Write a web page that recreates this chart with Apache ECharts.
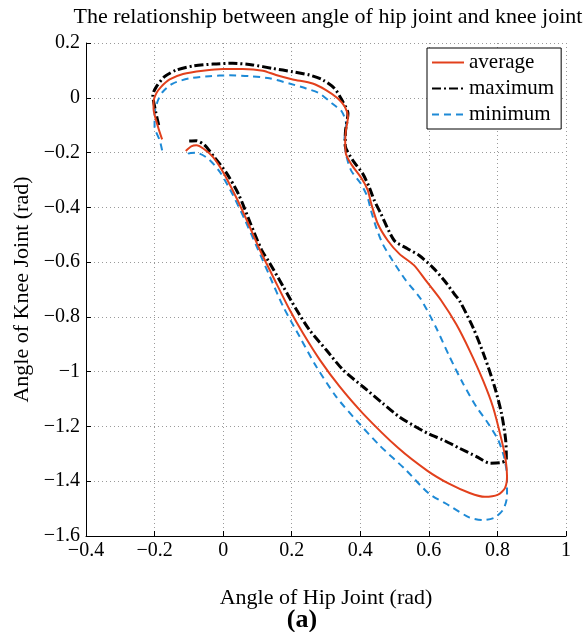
<!DOCTYPE html>
<html>
<head>
<meta charset="utf-8">
<script src="https://cdn.jsdelivr.net/npm/echarts@6/dist/echarts.min.js"></script>
<style>
html, body { margin: 0; padding: 0; background: #fff; }
#chart { width: 585px; height: 632px; }
</style>
</head>
<body>
<div id="chart"></div>
<script>
// tick labels (matlab uses a real minus sign)
var hipTickLabels = ['\u22120.4', '\u22120.2', '0', '0.2', '0.4', '0.6', '0.8', '1'];
var kneeTickLabels = ['\u22121.6', '\u22121.4', '\u22121.2', '\u22121', '\u22120.8', '\u22120.6', '\u22120.4', '\u22120.2', '0', '0.2'];

var seriesNames = ['average', 'maximum', 'minimum'];

// [hip, knee] pairs
var averageCurve = [
    [-0.178,-0.152],[-0.190,-0.106],[-0.203,-0.039],[-0.203,-0.015],[-0.195,0.016],[-0.181,0.040],
    [-0.156,0.067],[-0.117,0.087],[-0.059,0.099],[0.0,0.105],[0.057,0.105],[0.116,0.099],
    [0.154,0.083],[0.203,0.067],[0.261,0.052],[0.300,0.028],[0.334,-0.002],[0.355,-0.033],
    [0.364,-0.070],[0.358,-0.120],[0.356,-0.160],[0.358,-0.204],[0.375,-0.245],[0.404,-0.295],
    [0.422,-0.338],[0.432,-0.387],[0.451,-0.460],[0.480,-0.521],[0.514,-0.570],[0.557,-0.612],
    [0.591,-0.667],[0.636,-0.740],[0.680,-0.827],[0.719,-0.923],[0.758,-1.032],[0.787,-1.129],
    [0.812,-1.249],[0.824,-1.322],[0.828,-1.382],[0.822,-1.425],[0.802,-1.449],[0.763,-1.457],
    [0.719,-1.443],[0.660,-1.410],[0.596,-1.362],[0.510,-1.278],[0.408,-1.153],[0.340,-1.055],
    [0.282,-0.957],[0.233,-0.860],[0.194,-0.774],[0.155,-0.677],[0.107,-0.555],[0.070,-0.450],
    [0.039,-0.366],[0.0,-0.272],[-0.030,-0.216],[-0.058,-0.185],[-0.078,-0.173],[-0.093,-0.177],
    [-0.109,-0.194]
];
var maximumCurve = [
    [-0.188,-0.100],[-0.197,-0.050],[-0.205,0.010],[-0.195,0.040],[-0.171,0.077],[-0.137,0.101],
    [-0.088,0.116],[-0.030,0.123],[0.028,0.126],[0.086,0.120],[0.145,0.107],[0.203,0.095],
    [0.252,0.083],[0.291,0.065],[0.325,0.034],[0.348,-0.012],[0.364,-0.057],[0.357,-0.120],
    [0.356,-0.173],[0.378,-0.228],[0.407,-0.277],[0.426,-0.326],[0.441,-0.375],[0.460,-0.423],
    [0.499,-0.521],[0.538,-0.551],[0.572,-0.576],[0.611,-0.619],[0.645,-0.667],[0.674,-0.716],
    [0.690,-0.742],[0.729,-0.839],[0.763,-0.947],[0.792,-1.056],[0.812,-1.153],[0.824,-1.249],
    [0.826,-1.322],[0.810,-1.332],[0.778,-1.334],[0.739,-1.310],[0.690,-1.280],[0.641,-1.249],
    [0.601,-1.228],[0.553,-1.195],[0.514,-1.165],[0.466,-1.116],[0.408,-1.055],[0.350,-0.994],
    [0.301,-0.921],[0.252,-0.848],[0.214,-0.774],[0.175,-0.689],[0.136,-0.604],[0.112,-0.555],
    [0.080,-0.460],[0.046,-0.355],[0.010,-0.275],[-0.027,-0.215],[-0.054,-0.173],[-0.078,-0.157],
    [-0.099,-0.158]
];
var minimumCurve = [
    [-0.178,-0.192],[-0.185,-0.155],[-0.200,-0.106],[-0.200,-0.057],[-0.190,-0.009],[-0.176,0.022],
    [-0.147,0.052],[-0.098,0.071],[-0.040,0.079],[0.019,0.082],[0.077,0.079],[0.135,0.071],
    [0.193,0.052],[0.242,0.034],[0.281,0.016],[0.318,-0.021],[0.346,-0.050],[0.359,-0.097],
    [0.354,-0.150],[0.358,-0.204],[0.373,-0.265],[0.402,-0.314],[0.421,-0.362],[0.431,-0.411],
    [0.446,-0.472],[0.465,-0.533],[0.494,-0.594],[0.533,-0.667],[0.575,-0.732],[0.621,-0.839],
    [0.661,-0.947],[0.700,-1.044],[0.739,-1.129],[0.773,-1.189],[0.802,-1.249],[0.819,-1.310],
    [0.828,-1.382],[0.828,-1.455],[0.817,-1.503],[0.792,-1.533],[0.758,-1.542],[0.719,-1.533],
    [0.661,-1.490],[0.600,-1.445],[0.534,-1.360],[0.456,-1.269],[0.388,-1.177],[0.330,-1.092],
    [0.272,-0.982],[0.223,-0.872],[0.175,-0.762],[0.136,-0.652],[0.102,-0.555],[0.065,-0.450],
    [0.029,-0.356],[-0.010,-0.270],[-0.044,-0.222],[-0.078,-0.201],[-0.102,-0.204],[-0.112,-0.218]
];

var serif = '"Liberation Serif", "DejaVu Serif", serif';

function axisCommon() {
    return {
        type: 'value',
        interval: 0.2,
        axisLine: { show: true, onZero: false, lineStyle: { color: '#000', width: 1 } },
        axisTick: { show: true, inside: true, length: 5, lineStyle: { color: '#000' } },
        splitLine: { show: true, lineStyle: { color: '#9a9a9a', width: 1, type: [1, 3] } },
        nameLocation: 'middle',
        nameTextStyle: { fontFamily: serif, fontSize: 22, color: '#000' }
    };
}

var xAxis = axisCommon();
xAxis.min = -0.4;
xAxis.max = 1;
xAxis.name = 'Angle of Hip Joint (rad)';
xAxis.nameGap = 51;
xAxis.axisLabel = {
    fontFamily: serif, fontSize: 20, color: '#000', margin: 5,
    formatter: function (v) { return hipTickLabels[Math.round((v + 0.4) / 0.2)]; }
};

var yAxis = axisCommon();
yAxis.min = -1.6;
yAxis.max = 0.2;
yAxis.name = 'Angle of Knee Joint (rad)';
yAxis.nameGap = 52;
yAxis.axisLabel = {
    fontFamily: serif, fontSize: 20, color: '#000', margin: 6,
    formatter: function (v) { return kneeTickLabels[Math.round((v + 1.6) / 0.2)]; }
};

var chart = echarts.init(document.getElementById('chart'));
chart.setOption({
    animation: false,
    backgroundColor: '#fff',
    grid: { left: 86, right: 19, top: 43, bottom: 96 },
    xAxis: xAxis,
    yAxis: yAxis,
    legend: {
        data: seriesNames,
        orient: 'vertical',
        left: 427,
        top: 48,
        selectedMode: false,
        backgroundColor: '#fff',
        borderColor: '#000',
        borderWidth: 1,
        borderRadius: 0,
        padding: [4, 7, 4, 4],
        itemWidth: 32,
        itemHeight: 14,
        itemGap: 5,
        itemStyle: { opacity: 0 },
        textStyle: { fontFamily: serif, fontSize: 21, color: '#000' }
    },
    graphic: [
        { type: 'text', x: 328, y: 17, style: { text: 'The relationship between angle of hip joint and knee joint', font: '22px "Liberation Serif"', fill: '#000', align: 'center', verticalAlign: 'middle' } },
        { type: 'text', x: 302, y: 620, style: { text: '(a)', font: 'bold 26px "Liberation Serif"', fill: '#000', align: 'center', verticalAlign: 'middle' } }
    ],
    series: [
        {
            name: 'average', type: 'line', data: averageCurve, z: 4,
            symbol: 'none', smooth: 0.25,
            lineStyle: { color: '#e2401c', width: 2 },
            itemStyle: { color: '#e2401c' }
        },
        {
            name: 'maximum', type: 'line', data: maximumCurve, z: 3,
            symbol: 'none', smooth: 0.25,
            lineStyle: { color: '#000', width: 3, type: [9, 3, 2, 3] },
            itemStyle: { color: '#000' }
        },
        {
            name: 'minimum', type: 'line', data: minimumCurve, z: 2,
            symbol: 'none', smooth: 0.25,
            lineStyle: { color: '#1e8ad6', width: 2, type: [7, 5] },
            itemStyle: { color: '#1e8ad6' }
        }
    ]
});
</script>
</body>
</html>
